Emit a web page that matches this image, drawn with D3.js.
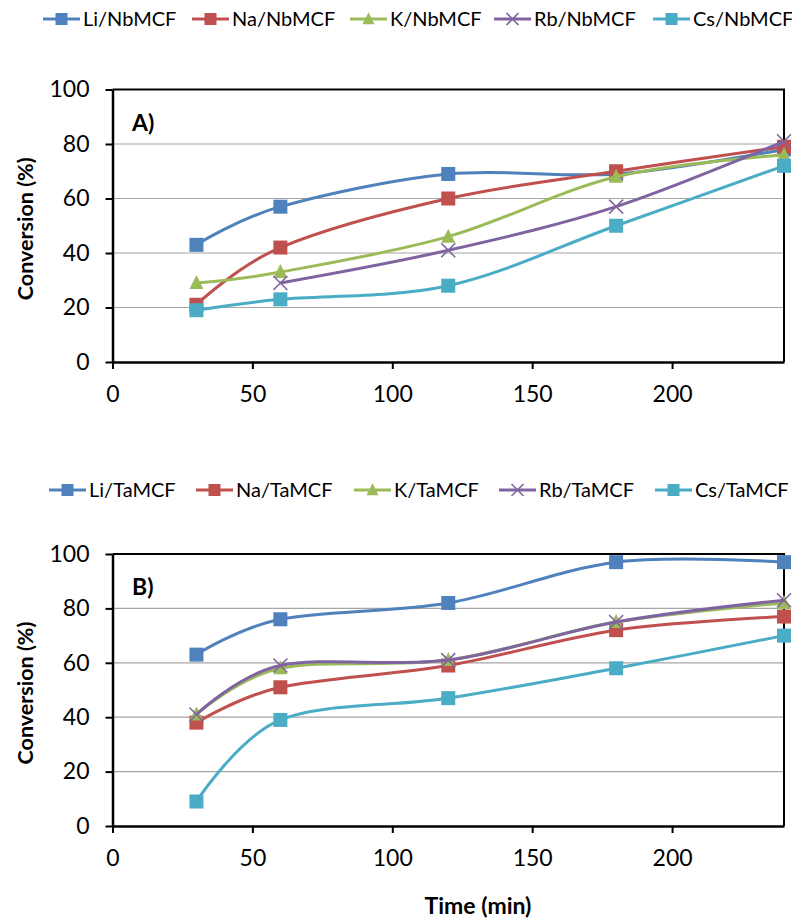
<!DOCTYPE html>
<html><head><meta charset="utf-8">
<script src="https://cdn.jsdelivr.net/npm/d3@7"></script>
<style>body{margin:0;background:#fff}svg{display:block}</style></head>
<body><svg id="chart" width="792" height="918"></svg>
<script>
// Sampling times (min) and axis ticks
const times = [30, 60, 120, 180, 240];
const xTicks = [0, 50, 100, 150, 200];
const yTicks = [0, 20, 40, 60, 80, 100];
const metals = ["Li", "Na", "K", "Rb", "Cs"];
const colors = ["#4F81BD", "#C0504D", "#9BBB59", "#8064A2", "#4BACC6"];
const markers = ["square", "square", "triangle", "times", "square"];

// Conversion (%) over NbMCF catalysts
const nbLi = [43, 57, 69, 69, 78];
const nbNa = [21, 42, 60, 70, 79];
const nbK  = [29, 33, 46, 68, 76];
const nbRb = [null, 29, 41, 57, 81];
const nbCs = [19, 23, 28, 50, 72];

// Conversion (%) over TaMCF catalysts
const taLi = [63, 76, 82, 97, 97];
const taNa = [38, 51, 59, 72, 77];
const taK  = [41, 58, 61, 75, 82];
const taRb = [41, 59, 61, 75, 83];
const taCs = [9, 39, 47, 58, 70];

const panels = [
  { label: "A)", support: "NbMCF", series: [nbLi, nbNa, nbK, nbRb, nbCs],
    top: 89.5, bottom: 362, legendY: 19, legendX: [43, 192, 350, 494, 653] },
  { label: "B)", support: "TaMCF", series: [taLi, taNa, taK, taRb, taCs],
    top: 554, bottom: 826, legendY: 490, legendX: [49, 196, 354, 499, 655] }
];

const svg = d3.select("#chart");
const FONT = "Lato, 'Open Sans', sans-serif";
const left = 112.5, right = 784;
const x = d3.scaleLinear().domain([0, 240]).range([left, right]);

function drawMarker(g, type, cx, cy, color, s) {
  if (type === "square") {
    g.append("rect").attr("x", cx - s / 2).attr("y", cy - s / 2)
      .attr("width", s).attr("height", s).attr("fill", color);
  } else if (type === "triangle") {
    const h = s * 0.95;
    g.append("path")
      .attr("d", `M${cx},${cy - h * 0.6}L${cx + s / 2},${cy + h * 0.45}L${cx - s / 2},${cy + h * 0.45}Z`)
      .attr("fill", color);
  } else if (type === "times") {
    const r = s / 2;
    g.append("path")
      .attr("d", `M${cx - r},${cy - r}L${cx + r},${cy + r}M${cx - r},${cy + r}L${cx + r},${cy - r}`)
      .attr("stroke", color).attr("stroke-width", 1.6).attr("fill", "none");
  }
}

panels.forEach(p => {
  const y = d3.scaleLinear().domain([0, 100]).range([p.bottom, p.top]);
  const g = svg.append("g");

  // gridlines
  g.append("g").selectAll("line").data(yTicks.filter(t => t > 0 && t < 100)).join("line")
    .attr("x1", left).attr("x2", right)
    .attr("y1", d => y(d)).attr("y2", d => y(d))
    .attr("stroke", "#A6A6A6").attr("stroke-width", 1.2);

  // plot frame (top and right)
  g.append("path")
    .attr("d", `M${left},${p.top}H${right}V${p.bottom}`)
    .attr("fill", "none").attr("stroke", "#000").attr("stroke-width", 2);

  // y axis
  const ya = g.append("g").attr("transform", `translate(${left},0)`)
    .call(d3.axisLeft(y).tickValues(yTicks).tickSize(7).tickPadding(16).tickSizeOuter(0));
  ya.select(".domain").attr("stroke-width", 2.5);
  ya.selectAll(".tick line").attr("stroke-width", 2);
  ya.selectAll("text").attr("font-family", FONT).attr("font-size", 23).attr("fill", "#000");

  // x axis
  const xa = g.append("g").attr("transform", `translate(0,${p.bottom})`)
    .call(d3.axisBottom(x).tickValues(xTicks).tickSize(7).tickPadding(17).tickSizeOuter(0));
  xa.select(".domain").attr("stroke-width", 2.5);
  xa.selectAll(".tick line").attr("stroke-width", 2);
  xa.selectAll("text").attr("font-family", FONT).attr("font-size", 23).attr("fill", "#000");

  // y axis title
  g.append("text")
    .attr("transform", `translate(32.5,${(p.top + p.bottom) / 2 + 3}) rotate(-90)`)
    .attr("text-anchor", "middle").attr("font-family", FONT).attr("font-weight", "bold")
    .attr("font-size", 21.5).text("Conversion (%)");

  // panel label
  g.append("text").attr("x", 132).attr("y", p.top + 41)
    .attr("font-family", FONT).attr("font-weight", "bold").attr("font-size", 23).text(p.label);

  // series lines and markers
  const line = d3.line()
    .defined(d => d.v != null)
    .x(d => x(d.t)).y(d => y(d.v))
    .curve(d3.curveCardinal.tension(0));

  p.series.forEach((vals, i) => {
    const pts = times.map((t, k) => ({ t, v: vals[k] }));
    g.append("path").datum(pts).attr("d", line)
      .attr("fill", "none").attr("stroke", colors[i]).attr("stroke-width", 3);
    const mg = g.append("g");
    pts.filter(d => d.v != null).forEach(d => drawMarker(mg, markers[i], x(d.t), y(d.v), colors[i], 14));
  });

  // legend
  metals.forEach((m, i) => {
    const lx = p.legendX[i], ly = p.legendY;
    const lg = svg.append("g");
    lg.append("line").attr("x1", lx).attr("x2", lx + 37).attr("y1", ly).attr("y2", ly)
      .attr("stroke", colors[i]).attr("stroke-width", 3);
    drawMarker(lg, markers[i], lx + 18.5, ly, colors[i], 12);
    lg.append("text").attr("x", lx + 40).attr("y", ly).attr("dy", "0.35em")
      .attr("font-family", FONT).attr("font-size", 20).text(`${m}/${p.support}`);
  });
});

// x axis title
svg.append("text").attr("x", 478).attr("y", 914)
  .attr("text-anchor", "middle").attr("font-family", FONT).attr("font-weight", "bold")
  .attr("font-size", 23).text("Time (min)");
</script>
</body></html>
